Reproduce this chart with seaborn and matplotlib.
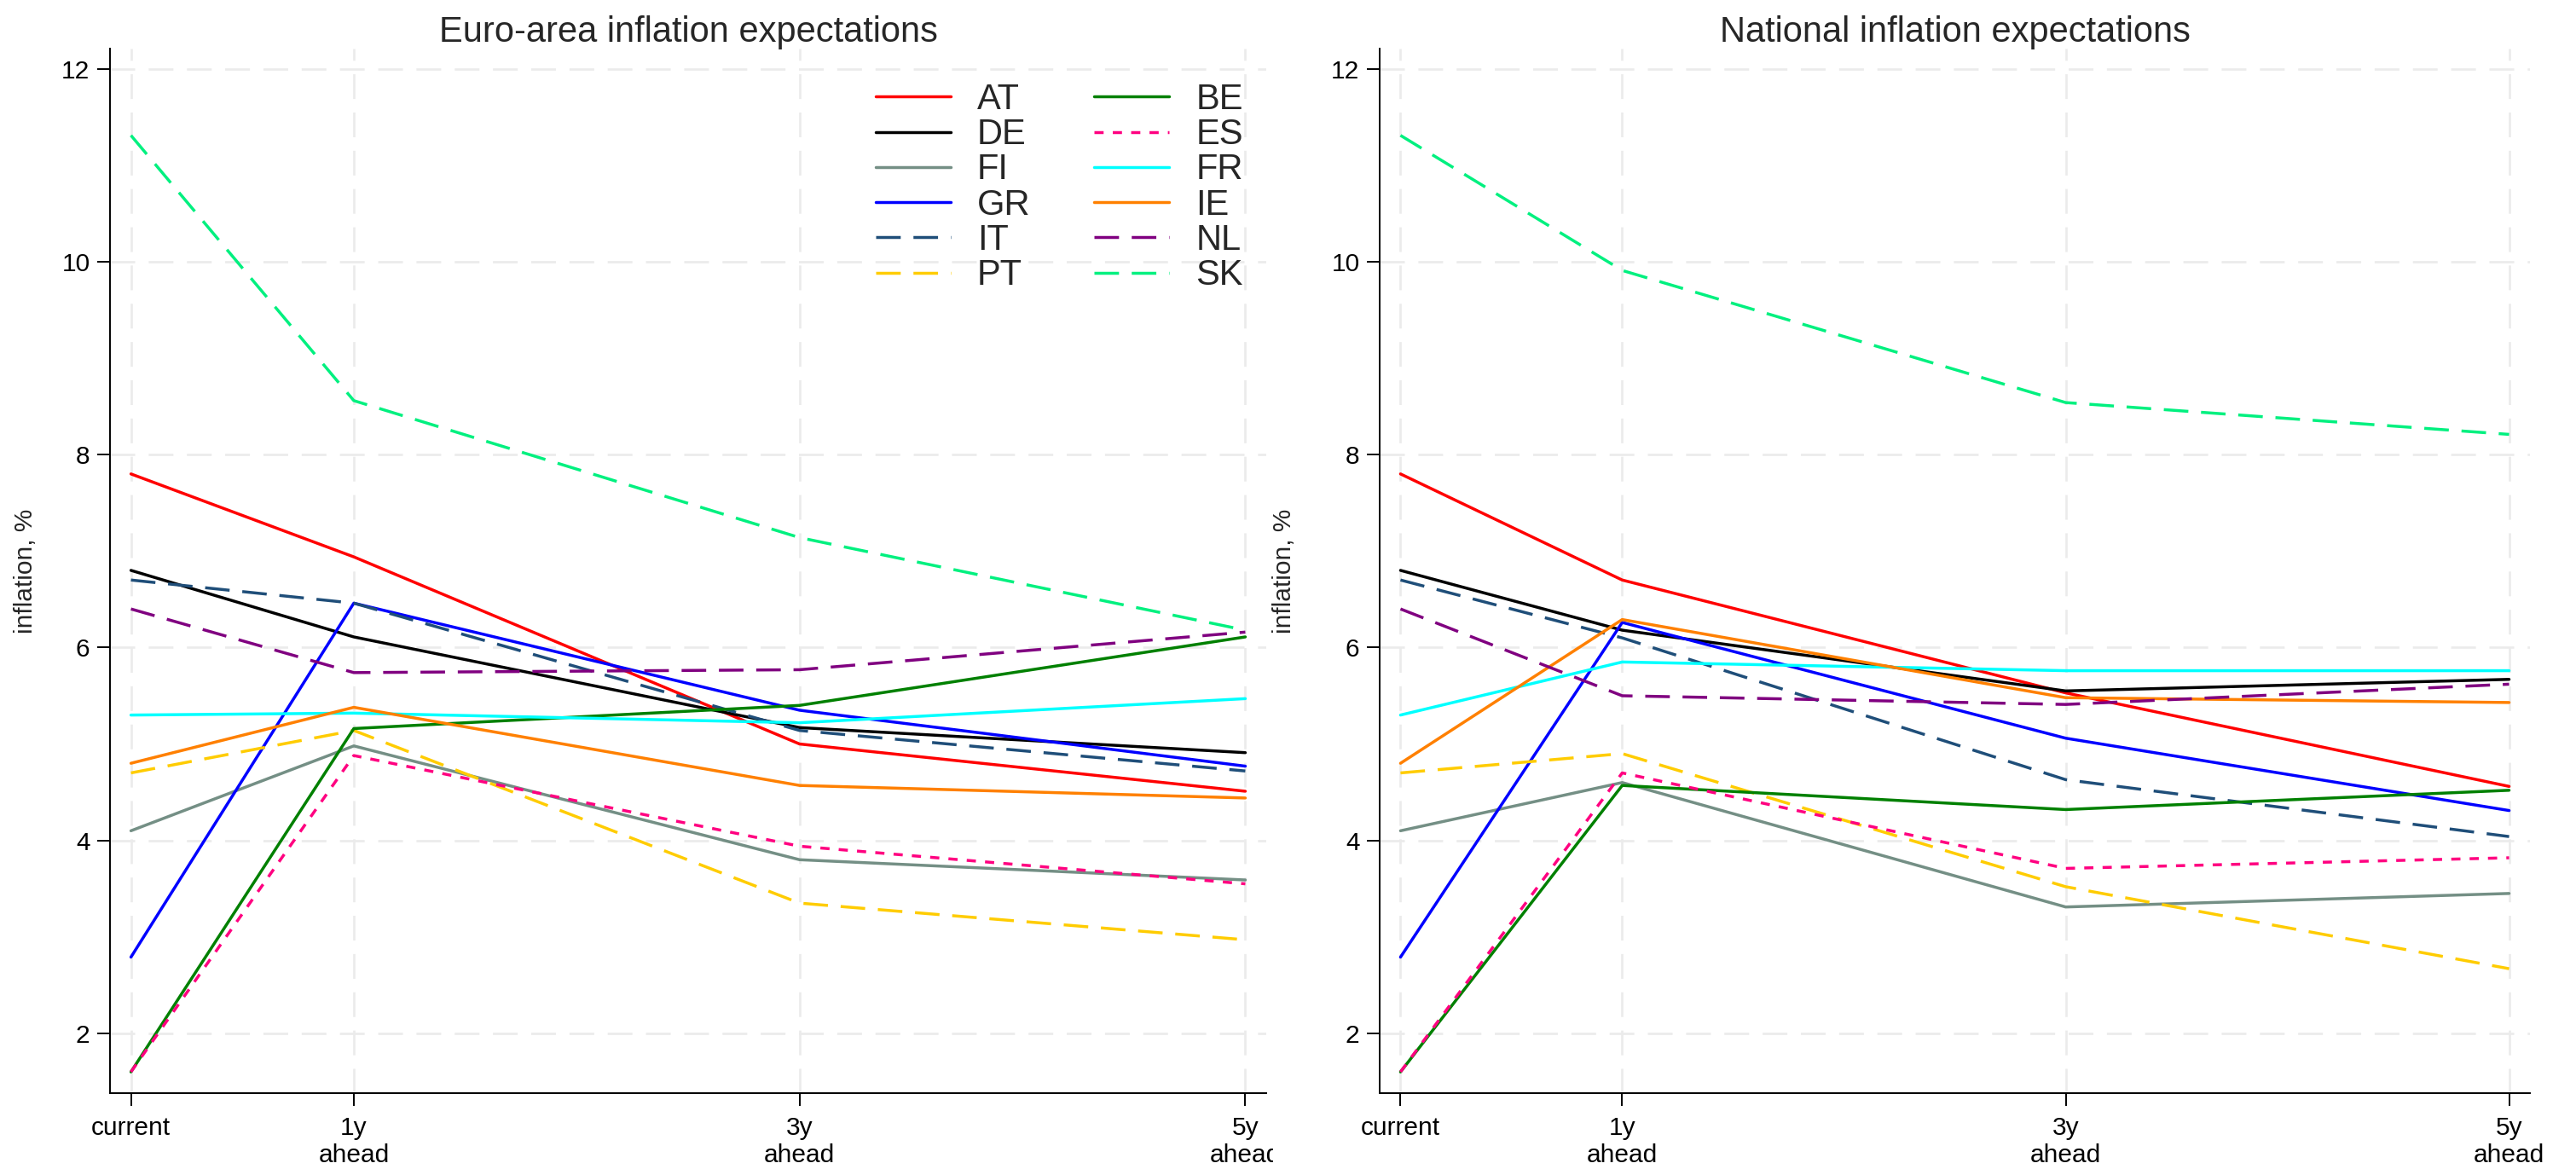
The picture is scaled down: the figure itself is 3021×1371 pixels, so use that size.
import numpy as np
import pandas as pd
import matplotlib
matplotlib.use("Agg")
import matplotlib.pyplot as plt
from matplotlib.transforms import Bbox, TransformedBbox
import seaborn as sns

# ---------------- data ----------------
horizon_labels = ["current", "1y\nahead", "3y\nahead", "5y\nahead"]
horizon_pos = [0, 1, 3, 5]

countries = ["AT", "BE", "DE", "ES", "FI", "FR", "GR", "IE", "IT", "NL", "PT", "SK"]

# Euro-area inflation expectations
ea_AT = [7.80, 6.94, 5.00, 4.51]
ea_BE = [1.60, 5.16, 5.40, 6.11]
ea_DE = [6.80, 6.11, 5.17, 4.91]
ea_ES = [1.60, 4.88, 3.94, 3.55]
ea_FI = [4.10, 4.98, 3.80, 3.59]
ea_FR = [5.30, 5.32, 5.22, 5.47]
ea_GR = [2.79, 6.46, 5.35, 4.77]
ea_IE = [4.80, 5.38, 4.57, 4.44]
ea_IT = [6.70, 6.46, 5.14, 4.72]
ea_NL = [6.40, 5.74, 5.77, 6.16]
ea_PT = [4.70, 5.14, 3.35, 2.97]
ea_SK = [11.31, 8.56, 7.14, 6.18]

# National inflation expectations
nat_AT = [7.80, 6.70, 5.53, 4.56]
nat_BE = [1.60, 4.57, 4.32, 4.52]
nat_DE = [6.80, 6.18, 5.55, 5.67]
nat_ES = [1.60, 4.70, 3.71, 3.82]
nat_FI = [4.10, 4.60, 3.31, 3.45]
nat_FR = [5.30, 5.85, 5.76, 5.76]
nat_GR = [2.79, 6.26, 5.06, 4.31]
nat_IE = [4.80, 6.29, 5.48, 5.43]
nat_IT = [6.70, 6.10, 4.63, 4.04]
nat_NL = [6.40, 5.50, 5.41, 5.62]
nat_PT = [4.70, 4.90, 3.52, 2.67]
nat_SK = [11.31, 9.91, 8.54, 8.21]

euro_area = dict(AT=ea_AT, BE=ea_BE, DE=ea_DE, ES=ea_ES, FI=ea_FI, FR=ea_FR,
                 GR=ea_GR, IE=ea_IE, IT=ea_IT, NL=ea_NL, PT=ea_PT, SK=ea_SK)
national = dict(AT=nat_AT, BE=nat_BE, DE=nat_DE, ES=nat_ES, FI=nat_FI, FR=nat_FR,
                GR=nat_GR, IE=nat_IE, IT=nat_IT, NL=nat_NL, PT=nat_PT, SK=nat_SK)

y_ticks = [2, 4, 6, 8, 10, 12]
titles = ["Euro-area inflation expectations", "National inflation expectations"]
y_label = "inflation, %"

# ---------------- styles ----------------
colors = {
    "AT": "#ff0000", "BE": "#008000", "DE": "#000000", "ES": "#ff0080",
    "FI": "#748f85", "FR": "#00ffff", "GR": "#0000ff", "IE": "#ff8000",
    "IT": "#1f4e79", "NL": "#800080", "PT": "#ffcc00", "SK": "#00f07f",
}
LW = 2.5
long_dash = (8.3, 4.3)
dot_dash = (3.1, 3.1)
dashes = {
    "AT": "", "BE": "", "DE": "", "ES": dot_dash, "FI": "", "FR": "",
    "GR": "", "IE": "", "IT": long_dash, "NL": long_dash, "PT": long_dash,
    "SK": long_dash,
}
# column-major order so the 2-column legend reads AT BE / DE ES / ...
legend_order = ["AT", "DE", "FI", "GR", "IT", "PT", "BE", "ES", "FR", "IE", "NL", "SK"]

sns.set_style("white")
plt.rcParams["font.family"] = ["Liberation Sans", "DejaVu Sans"]
plt.rcParams["axes.linewidth"] = 1.4

W, H = 3021, 1371
fig = plt.figure(figsize=(W / 100, H / 100), dpi=100)
ax1 = fig.add_axes([129 / W, (H - 1282) / H, 1356 / W, 1225 / H])
ax2 = fig.add_axes([1618 / W, (H - 1282) / H, 1349 / W, 1225 / H])


def long_frame(data):
    rows = []
    for c in countries:
        for x, v in zip(horizon_pos, data[c]):
            rows.append({"country": c, "horizon": x, "value": v})
    return pd.DataFrame(rows)


for ax, data, title, show_leg, ylab_x in [(ax1, euro_area, titles[0], True, -0.0627),
                                          (ax2, national, titles[1], False, -0.073)]:
    df = long_frame(data)
    sns.lineplot(data=df, x="horizon", y="value", hue="country", style="country",
                 hue_order=legend_order, style_order=legend_order,
                 palette=colors, dashes=dashes, linewidth=LW,
                 legend=show_leg, ax=ax)
    ax.set_xlim(-0.094, 5.094)
    ax.set_ylim(1.38, 12.21)
    ax.set_xticks(horizon_pos)
    ax.set_xticklabels(horizon_labels, fontsize=21.5, linespacing=1.2)
    ax.set_yticks(y_ticks)
    ax.set_yticklabels([str(t) for t in y_ticks], fontsize=21.5)
    ax.tick_params(axis="both", direction="out", length=11, width=1.4,
                   colors="black", left=True, bottom=True)
    ax.tick_params(axis="x", pad=8.5)
    ax.tick_params(axis="y", pad=6)
    ax.set_xlabel("")
    ax.set_ylabel(y_label, fontsize=21.5)
    ax.yaxis.set_label_coords(ylab_x, 0.5)
    ax.set_title(title, fontsize=30, pad=6)
    ax.grid(True, color="#ebebeb", linewidth=1.9, linestyle=(0, (11, 6)))
    ax.set_axisbelow(True)
    for s in ["top", "right"]:
        ax.spines[s].set_visible(False)
    for s in ["left", "bottom"]:
        ax.spines[s].set_color("black")
        ax.spines[s].set_linewidth(1.4)

leg = ax1.get_legend()
handles = list(leg.legend_handles)
labels = [t.get_text() for t in leg.get_texts()]
leg.remove()
for h in handles:
    h.set_linewidth(LW)
ax1.legend(handles, labels, ncol=2, frameon=False, fontsize=30,
           loc="upper left", bbox_to_anchor=(1027 / W, (H - 97) / H),
           bbox_transform=fig.transFigure, borderpad=0, borderaxespad=0,
           handlelength=2.11, handletextpad=0.74, columnspacing=1.8,
           labelspacing=0.03)

# left panel's last tick label is cut where the right panel begins
clip = TransformedBbox(Bbox.from_extents(0, 0, 1493 / W, 1), fig.transFigure)
for tick in ax1.xaxis.get_major_ticks():
    tick.label1.set_clip_box(clip)
    tick.label1.set_clip_on(True)

fig.savefig("out.png", dpi=100, facecolor="white")
